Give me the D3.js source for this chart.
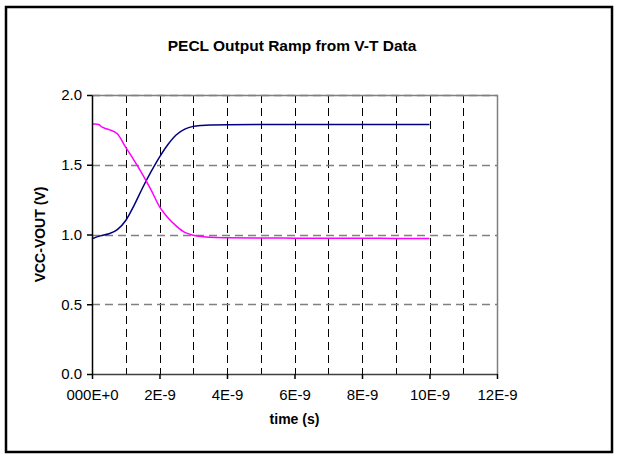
<!DOCTYPE html>
<html><head><meta charset="utf-8">
<script src="https://cdn.jsdelivr.net/npm/d3@7"></script>
<style>body{margin:0;background:#fff}svg{display:block}text{font-family:"Liberation Sans",Arial,sans-serif}</style>
</head><body><svg id="c" width="628" height="458"></svg>
<script>
const title = "PECL Output Ramp from V-T Data";
const xTitle = "time (s)";
const yTitle = "VCC-VOUT (V)";
const xTickValues = [0, 2e-9, 4e-9, 6e-9, 8e-9, 10e-9, 12e-9];
const xTickLabels = ["000E+0", "2E-9", "4E-9", "6E-9", "8E-9", "10E-9", "12E-9"];
const yTickValues = [0, 0.5, 1.0, 1.5, 2.0];
const yTickLabels = ["0.0", "0.5", "1.0", "1.5", "2.0"];
// time in seconds
const riseTime = [0,0.25e-9,0.5e-9,0.75e-9,1e-9,1.25e-9,1.5e-9,1.75e-9,2e-9,2.25e-9,2.5e-9,2.75e-9,3e-9,3.25e-9,3.5e-9,4e-9,5e-9,6e-9,7e-9,8e-9,9e-9,10e-9];
const riseV = [0.970,0.990,1.005,1.035,1.100,1.210,1.335,1.450,1.555,1.645,1.715,1.755,1.775,1.782,1.785,1.787,1.788,1.788,1.788,1.788,1.788,1.788];
const fallTime = [0,0.1e-9,0.2e-9,0.3e-9,0.4e-9,0.5e-9,0.75e-9,1e-9,1.25e-9,1.5e-9,1.75e-9,2e-9,2.25e-9,2.5e-9,2.75e-9,3e-9,3.25e-9,3.5e-9,4e-9,5e-9,6e-9,7e-9,8e-9,9e-9,10e-9];
const fallV = [1.790,1.792,1.788,1.770,1.760,1.752,1.722,1.625,1.530,1.430,1.320,1.200,1.120,1.060,1.015,0.995,0.985,0.980,0.977,0.975,0.974,0.973,0.973,0.972,0.972];

const svg = d3.select("#c");
const L = 92, R = 497, T = 95, B = 374;
const x = d3.scaleLinear().domain([0, 12e-9]).range([L, R]);
const y = d3.scaleLinear().domain([0, 2]).range([B, T]);

svg.append("rect").attr("x",6).attr("y",7).attr("width",606).attr("height",445)
  .attr("fill","#fff").attr("stroke","#000").attr("stroke-width",2.5);

// gridlines
const g = svg.append("g");
g.selectAll("line.vg").data(d3.range(1,12).map(i=>i*1e-9)).join("line")
  .attr("x1",d=>Math.round(x(d))+0.5).attr("x2",d=>Math.round(x(d))+0.5)
  .attr("y1",T).attr("y2",B).attr("stroke","#000").attr("stroke-width",1)
  .attr("stroke-dasharray","8,5");
g.selectAll("line.hg").data(yTickValues.slice(1)).join("line")
  .attr("x1",L).attr("x2",R).attr("y1",d=>Math.round(y(d))+0.5).attr("y2",d=>Math.round(y(d))+0.5)
  .attr("stroke","#808080").attr("stroke-width",1.5).attr("stroke-dasharray","8,5");
// plot border (top/right gray)
svg.append("path").attr("d",`M${L},${T+0.5}H${R+0.5}V${B}`).attr("fill","none")
  .attr("stroke","#808080").attr("stroke-width",1.5);

// lines
const line = d3.line().x(d=>x(d[0])).y(d=>y(d[1])).curve(d3.curveMonotoneX);
svg.append("path").datum(riseTime.map((t,i)=>[t,riseV[i]])).attr("d",line)
  .attr("fill","none").attr("stroke","#000080").attr("stroke-width",1.5);
svg.append("path").datum(fallTime.map((t,i)=>[t,fallV[i]])).attr("d",line)
  .attr("fill","none").attr("stroke","#ff00ff").attr("stroke-width",1.5);

// axes
const xa = svg.append("g").attr("transform",`translate(0,${B})`)
  .call(d3.axisBottom(x).tickValues(xTickValues).tickFormat((d,i)=>xTickLabels[i]).tickSize(5).tickSizeOuter(0).tickPadding(10));
const ya = svg.append("g").attr("transform",`translate(${L},0)`)
  .call(d3.axisLeft(y).tickValues(yTickValues).tickFormat((d,i)=>yTickLabels[i]).tickSize(5).tickSizeOuter(0).tickPadding(5));
[xa,ya].forEach(a=>{a.selectAll("text").attr("font-size",15).attr("fill","#000").style("font-family","Liberation Sans, Arial, sans-serif");
  a.selectAll("line,path").attr("stroke","#000").attr("stroke-width",1.5);});
xa.select(".domain").attr("stroke","#404040");

svg.append("text").attr("x",292).attr("y",51).attr("text-anchor","middle")
  .attr("font-weight","bold").attr("font-size",15.5).text(title);
svg.append("text").attr("x",(L+R)/2).attr("y",424).attr("text-anchor","middle")
  .attr("font-weight","bold").attr("font-size",14).text(xTitle);
svg.append("text").attr("transform",`translate(45,${(T+B)/2}) rotate(-90)`).attr("text-anchor","middle")
  .attr("font-weight","bold").attr("font-size",14).text(yTitle);
</script></body></html>
